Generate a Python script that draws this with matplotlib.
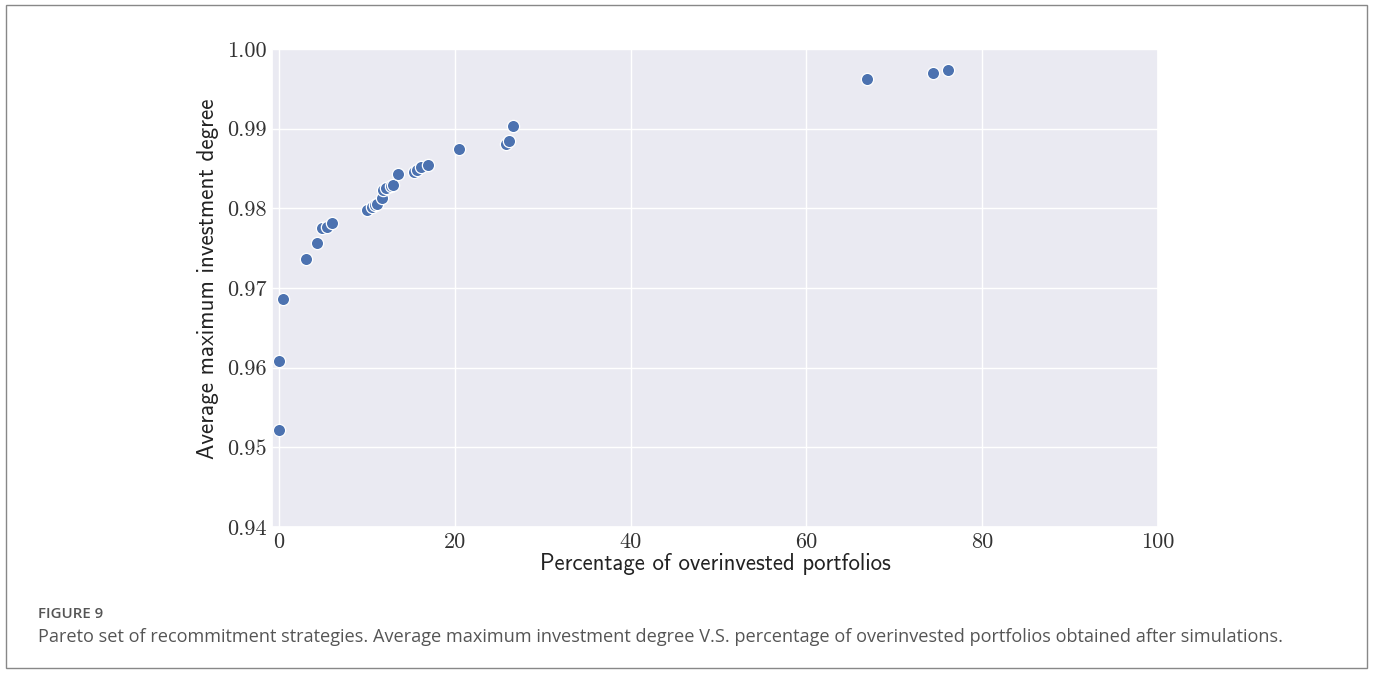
import matplotlib
matplotlib.use("Agg")
import matplotlib.pyplot as plt
from matplotlib.patches import Rectangle
from matplotlib.ticker import FixedLocator
import seaborn as sns

# Pareto set: percentage of overinvested portfolios vs average maximum investment degree
overinvested_pct = [0.03, 0.03, 0.42, 3.04, 4.32, 4.93, 5.42, 6.03,
                    9.97, 10.58, 10.96, 11.18, 11.68, 11.79, 12.17, 12.70,
                    13.00, 13.54, 15.30, 15.73, 16.19, 16.99, 20.53, 25.82,
                    26.15, 26.66, 66.86, 74.37, 76.15]
avg_max_degree = [0.9522, 0.9608, 0.9686, 0.9737, 0.9757, 0.9775, 0.9777, 0.9782,
                  0.9798, 0.9802, 0.9804, 0.9805, 0.9813, 0.9823, 0.9826, 0.9828,
                  0.9829, 0.9843, 0.9845, 0.9848, 0.9852, 0.9854, 0.9875, 0.9881,
                  0.9885, 0.9903, 0.9962, 0.9970, 0.9974]

x_ticks = [0, 20, 40, 60, 80, 100]
y_ticks = [0.94, 0.95, 0.96, 0.97, 0.98, 0.99, 1.00]
x_tick_labels = ["0", "20", "40", "60", "80", "100"]
y_tick_labels = ["0.94", "0.95", "0.96", "0.97", "0.98", "0.99", "1.00"]

x_label = "Percentage of overinvested portfolios"
y_label = "Average maximum investment degree"
fig_label = "FIGURE 9"
caption = ("Pareto set of recommitment strategies. Average maximum investment degree V.S. "
           "percentage of overinvested portfolios obtained after simulations.")

sns.set_theme(style="darkgrid")

W, H = 1373, 675
fig = plt.figure(figsize=(W / 100, H / 100), dpi=100)
fig.patch.set_facecolor("white")

left, right, top, bottom = 272, 1158, 49, 527
ax = fig.add_axes([left / W, 1 - bottom / H, (right - left) / W, (bottom - top) / H])

ax.scatter(overinvested_pct, avg_max_degree, s=78, color="#4C72B0",
           edgecolor="white", linewidth=0.9, zorder=3)

ax.set_xlim(-0.8, 100)
ax.set_ylim(0.94, 1.00)
ax.xaxis.set_major_locator(FixedLocator(x_ticks))
ax.yaxis.set_major_locator(FixedLocator(y_ticks))
ax.set_xticklabels(x_tick_labels, fontfamily="cmr10", fontsize=16, color="#333333")
ax.set_yticklabels(y_tick_labels, fontfamily="cmr10", fontsize=16, color="#333333")
ax.tick_params(axis="both", length=0, pad=4)

ax.set_xlabel(x_label, fontfamily="cmss10", fontsize=16.4, color="#222222", labelpad=1)
ax.set_ylabel(y_label, fontfamily="cmss10", fontsize=16.6, color="#222222",
              va="center")
ax.yaxis.set_label_coords((208 - left) / (right - left), 0.52)

# Caption block below the chart
fig.text(38 / W, 1 - 614 / H, fig_label, fontfamily="Open Sans", fontweight="semibold",
         fontsize=10.8, color="#555555", va="center", ha="left")
fig.text(38 / W, 1 - 637 / H, caption, fontfamily="Open Sans",
         fontsize=13.1, color="#555555", va="center", ha="left")

# Thin frame around the whole figure
fig.patches.append(Rectangle((6 / W, 1 - 668 / H), (1367 - 6) / W, (668 - 5) / H,
                             transform=fig.transFigure, fill=False,
                             edgecolor="#888888", linewidth=1.0))

fig.savefig("out.png", dpi=100)
